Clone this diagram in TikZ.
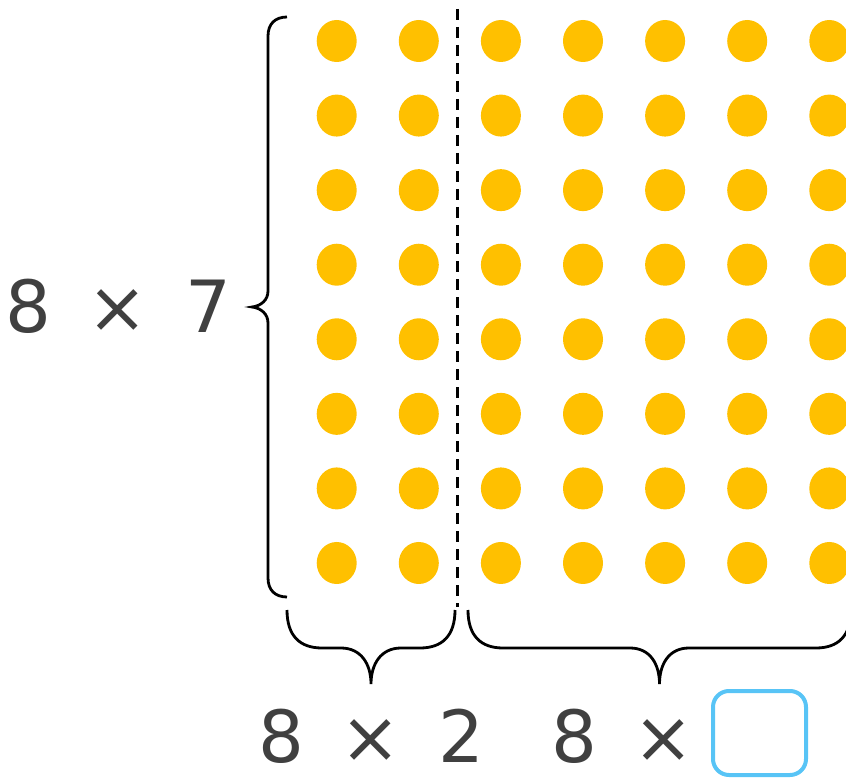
\documentclass[tikz,border=0pt]{standalone}
\usepackage{fontspec}
\setmainfont{DejaVu Sans}
\usetikzlibrary{positioning}
\definecolor{dotyellow}{RGB}{255,192,0}
\definecolor{textgray}{RGB}{64,64,64}
\definecolor{boxblue}{RGB}{88,196,246}

\begin{document}
\begin{tikzpicture}[x=1pt,y=-1pt,
		brc/.style={black,line width=2.8pt},
		expr/.style={inner sep=0pt,text=textgray,font=\fontsize{72}{76}\selectfont},
		blank/.style={draw=boxblue,line width=4pt,rounded corners=16pt,minimum width=93pt,minimum height=84pt,inner sep=0pt}]
			\useasboundingbox (0,0) rectangle (846,778);
			\clip (0,0) rectangle (846,778);
			\foreach \c in {0,...,6}
				\foreach \r in {0,...,7}
					\fill[dotyellow] (336.7+82.1*\c,41+74.57*\r) ellipse (20pt and 21pt);
			\draw[black,line width=2.6pt,dash pattern=on 11pt off 7pt] (457.5,9) -- (457.5,607);
			\draw[brc] (287,17) .. controls (275,17) and (268,24) .. (268,36) -- (268,291)
				.. controls (268,300) and (261,306) .. (252,307)
				.. controls (261,308) and (268,314) .. (268,323) -- (268,578)
				.. controls (268,590) and (275,597) .. (287,597);
			\draw[brc] (287,610) .. controls (287,636) and (300,648) .. (322,648) -- (341,648)
				.. controls (361,648) and (371,664) .. (371,684)
				.. controls (371,664) and (381,648) .. (401,648) -- (420,648)
				.. controls (442,648) and (455,636) .. (455,610);
			\draw[brc] (468,610) .. controls (468,636) and (481,648) .. (503,648) -- (630,648)
				.. controls (650,648) and (659.5,664) .. (659.5,684)
				.. controls (659.5,664) and (669,648) .. (689,648) -- (816,648)
				.. controls (838,648) and (851,636) .. (851,610);
			\node[expr] (whole) at (118,306) {8\hspace{37pt}×\hspace{37pt}7};
			\node[expr] (left) at (371,736) {8\hspace{37pt}×\hspace{37pt}2};
			\node[expr] (right) at (622.5,736) {8\hspace{36pt}×};
			\node[blank] (gap) at (759.5,733) {};
		\end{tikzpicture}
\end{document}
